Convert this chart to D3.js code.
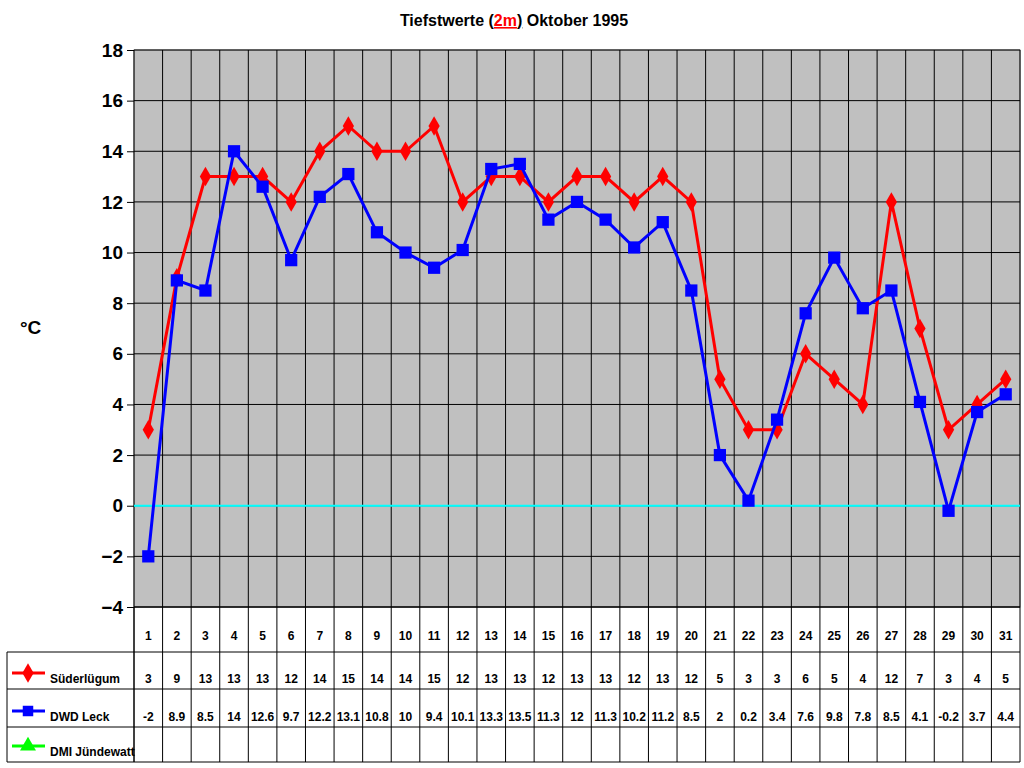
<!DOCTYPE html><html><head><meta charset="utf-8"><script src="https://cdn.jsdelivr.net/npm/d3@7"></script>
<style>body{margin:0;background:#fff}svg{font-family:Arial,"Liberation Sans",sans-serif;font-weight:bold}</style></head><body><svg width="1024" height="768"></svg>
<script>
const days = d3.range(1,32);
const suder = [3,9,13,13,13,12,14,15,14,14,15,12,13,13,12,13,13,12,13,12,5,3,3,6,5,4,12,7,3,4,5];
const leck = [-2,8.9,8.5,14,12.6,9.7,12.2,13.1,10.8,10,9.4,10.1,13.3,13.5,11.3,12,11.3,10.2,11.2,8.5,2,0.2,3.4,7.6,9.8,7.8,8.5,4.1,-0.2,3.7,4.4];
const yTicks = [-4,-2,0,2,4,6,8,10,12,14,16,18];
const series = [{name:"Süderlügum",vals:suder,color:"#ff0000",shape:d3.symbolDiamond},
 {name:"DWD Leck",vals:leck,color:"#0000ff",shape:d3.symbolSquare},
 {name:"DMI Jündewatt",vals:null,color:"#00ff00",shape:d3.symbolTriangle}];
const svg=d3.select("svg");
const L=134,R=1020,T=50,B=607;
const x=d3.scaleBand().domain(days).range([L,R]);
const y=d3.scaleLinear().domain([-4,18]).range([B,T]);
svg.append("rect").attr("x",L).attr("y",T).attr("width",R-L).attr("height",B-T).attr("fill","#c0c0c0").attr("stroke","#808080");
yTicks.forEach(t=>svg.append("line").attr("x1",L).attr("x2",R).attr("y1",y(t)).attr("y2",y(t)).attr("stroke","#000").attr("stroke-width",1));
days.forEach(d=>svg.append("line").attr("x1",x(d)).attr("x2",x(d)).attr("y1",T).attr("y2",762).attr("stroke","#000"));
svg.append("line").attr("x1",R).attr("x2",R).attr("y1",T).attr("y2",762).attr("stroke","#000");
svg.append("line").attr("x1",L).attr("x2",R).attr("y1",y(0)).attr("y2",y(0)).attr("stroke","#00ffff").attr("stroke-width",2);
const ax=svg.append("g").attr("transform",`translate(${L},0)`).call(d3.axisLeft(y).tickValues(yTicks).tickSize(7).tickPadding(4));
ax.select(".domain").remove();
ax.selectAll("text").attr("font-size",19).attr("font-weight","bold").attr("font-family","Arial,'Liberation Sans',sans-serif").attr("fill","#000");
svg.append("text").attr("x",20).attr("y",334).attr("font-size",19).text("°C");
const t=svg.append("text").attr("x",514).attr("y",26).attr("text-anchor","middle").attr("font-size",16);
t.append("tspan").text("Tiefstwerte (");t.append("tspan").attr("fill","#ff0000").attr("text-decoration","underline").text("2m");t.append("tspan").attr("text-decoration","underline").text(")");t.append("tspan").text(" Oktober 1995");
// table
const rows=[607,652,689,727,762];
svg.append("line").attr("x1",L).attr("x2",R).attr("y1",B).attr("y2",B).attr("stroke","#000");
[652,689,727,762].forEach(r=>svg.append("line").attr("x1",7).attr("x2",R).attr("y1",r).attr("y2",r).attr("stroke","#000"));
svg.append("line").attr("x1",7).attr("x2",7).attr("y1",652).attr("y2",762).attr("stroke","#000");
svg.append("line").attr("x1",L).attr("x2",L).attr("y1",607).attr("y2",762).attr("stroke","#000");
days.forEach(d=>svg.append("text").attr("x",x(d)+x.bandwidth()/2).attr("y",640).attr("text-anchor","middle").attr("font-size",12).text(d));
series.forEach((s,i)=>{
 const ry=rows[i+2]-6;
 svg.append("line").attr("x1",12).attr("x2",45).attr("y1",ry-10).attr("y2",ry-10).attr("stroke",s.color).attr("stroke-width",3);
 svg.append("path").attr("d",d3.symbol().type(s.shape).size(110)()).attr("transform",`translate(28,${ry-10})`).attr("fill",s.color);
 svg.append("text").attr("x",50).attr("y",ry).attr("font-size",12).text(s.name);
 if(s.vals) s.vals.forEach((v,j)=>svg.append("text").attr("x",x(days[j])+x.bandwidth()/2).attr("y",ry).attr("text-anchor","middle").attr("font-size",12).text(v));
});
// lines
series.filter(s=>s.vals).forEach(s=>{
 const cx=(d,j)=>x(days[j])+x.bandwidth()/2;
 svg.append("path").datum(s.vals).attr("fill","none").attr("stroke",s.color).attr("stroke-width",3).attr("d",d3.line().x(cx).y(d=>y(d)));
 svg.selectAll(null).data(s.vals).enter().append("path").attr("d",d3.symbol().type(s.shape).size(s.shape===d3.symbolSquare?150:110)()).attr("transform",(d,j)=>`translate(${cx(d,j)},${y(d)})`).attr("fill",s.color);
});
</script></body></html>
